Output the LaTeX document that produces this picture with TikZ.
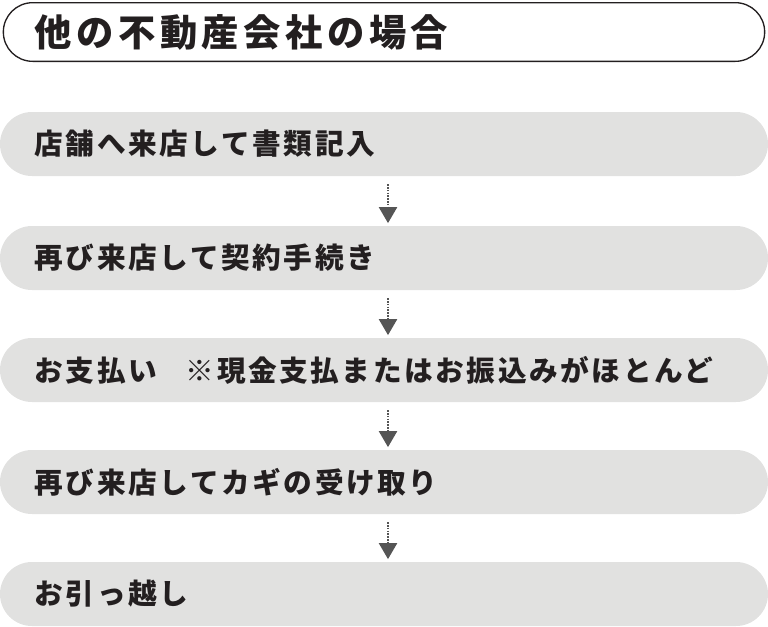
\documentclass[tikz,border=0pt]{standalone}
\usepackage{fontspec}
\newfontfamily\cjk{Noto Sans CJK JP}
\definecolor{boxgray}{HTML}{E1E1E0}
\definecolor{txt}{HTML}{231F20}
\definecolor{arr}{HTML}{555555}
\begin{document}
\begin{tikzpicture}[x=0.75pt,y=-0.75pt,
  stepbox/.style={fill=boxgray,rounded corners=24pt,minimum width=576pt,minimum height=48pt,inner sep=0pt},
  lbl/.style={anchor=west,font=\cjk\bfseries\fontsize{21.5pt}{24pt}\selectfont\addfontfeature{LetterSpace=9},text=txt},
  conn/.style={draw=arr,densely dotted,line width=1.1pt},
  tip/.style={fill=arr,draw=none}]
\useasboundingbox (0,0) rectangle (768,626);
\node[draw=txt,line width=1pt,rounded corners=22pt,minimum width=571pt,minimum height=44pt,inner sep=0pt] (title) at (384,32) {};
\node[anchor=west,font=\cjk\bfseries\fontsize{28pt}{30pt}\selectfont\addfontfeature{LetterSpace=12},text=txt] (tt) at (30,32) {他の不動産会社の場合};
\foreach \i/\y/\t in {1/144/店舗へ来店して書類記入,2/258/再び来店して契約手続き,3/370/お支払い\quad ※現金支払またはお振込みがほとんど,4/482/再び来店してカギの受け取り,5/594/お引っ越し}{
  \node[stepbox] (b\i) at (384,\y) {};
  \node[lbl] (l\i) at (30,\y) {\t};
}
\foreach \a/\b in {1/2,2/3,3/4,4/5}{
  \coordinate (s\a) at ([xshift=3pt,yshift=-6pt]b\a.south);
  \coordinate (e\a) at ([xshift=3pt,yshift=2pt]b\b.north);
  \draw[conn] (s\a) -- ([yshift=12pt]e\a);
  \fill[tip] ([yshift=12pt,xshift=-7pt]e\a) -- ([yshift=12pt,xshift=7pt]e\a) -- (e\a) -- cycle;
}
\end{tikzpicture}
\end{document}
